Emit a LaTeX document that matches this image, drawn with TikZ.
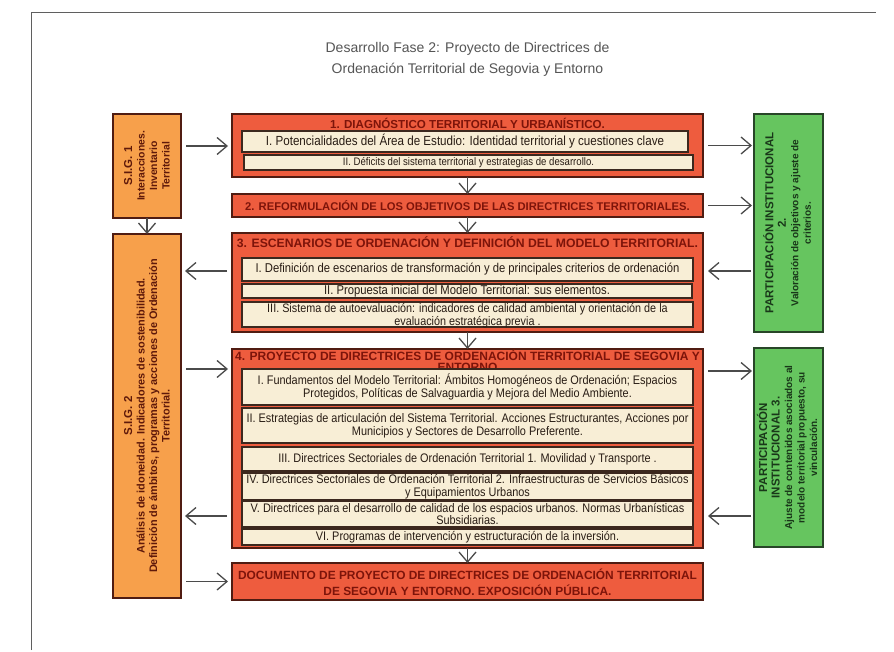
\documentclass[tikz,border=0pt]{standalone}
\usepackage{fontspec}
\setmainfont{Liberation Sans}
\newfontfamily\nf[FakeStretch=0.88]{Liberation Sans}
\usetikzlibrary{arrows.meta}
\definecolor{redfill}{RGB}{238,92,62}
\definecolor{redline}{RGB}{80,28,18}
\definecolor{cream}{RGB}{248,238,214}
\definecolor{subline}{RGB}{60,40,30}
\definecolor{subtext}{RGB}{40,28,20}
\definecolor{titlered}{RGB}{125,20,10}
\definecolor{orangefill}{RGB}{247,160,75}
\definecolor{greenfill}{RGB}{102,197,95}
\definecolor{greenline}{RGB}{40,70,40}
\definecolor{greentext}{RGB}{25,55,25}
\definecolor{sigtext}{RGB}{95,25,10}
\definecolor{arrgray}{RGB}{75,75,75}
\definecolor{headgray}{RGB}{85,85,85}
\definecolor{framegray}{RGB}{95,95,95}
\tikzset{
  box/.style={inner sep=0pt, outer sep=0pt},
  redbox/.style={box, draw=redline, line width=1.6pt, fill=redfill, minimum width=471pt},
  subbox/.style={box, draw=subline, line width=1.3pt, fill=cream, text=subtext, align=center, minimum width=451pt},
  rtitle/.style={box, text=titlered, align=center},
  sigbox/.style={box, draw=redline, line width=1.3pt, fill=orangefill, minimum width=68pt},
  grbox/.style={box, draw=greenline, line width=1.3pt, fill=greenfill, minimum width=69pt},
  sigtxt/.style={box, rotate=90, align=center, text=sigtext, font=\bfseries\fontsize{10.4}{12.5}\selectfont},
  grtxt/.style={box, rotate=90, align=center, text=greentext, font=\bfseries\fontsize{10}{12.5}\selectfont},
  arr/.style={draw=arrgray, line width=1.3pt, -{Straight Barb[length=10pt,width=17pt]}},
  fa/.style={font=\nf\fontsize{13.2}{13.5}\selectfont},
  fb/.style={font=\nf\fontsize{10.9}{12}\selectfont},
  fc/.style={font=\nf\fontsize{12.8}{11.8}\selectfont},
  fd/.style={font=\nf\fontsize{12.4}{12.8}\selectfont},
}
\begin{document}
\begin{tikzpicture}[x=1pt,y=-1pt]
\fill[white] (0,0) rectangle (894,652);
\useasboundingbox (0,0) rectangle (894,652);
\draw[framegray, line width=1pt] (31,650) -- (31,13) -- (876,13);

\node[box, text=headgray, align=center, font=\fontsize{14}{21}\selectfont] (head) at (467.5,59.5)
  {Desarrollo Fase 2: Proyecto de Directrices de\\Ordenación Territorial de Segovia y Entorno};

% S.I.G. boxes
\node[sigbox, minimum height=104pt] (sig1) at (147,166) {};
\node[sigtxt] (sig1t) at (147,166) {{\fontsize{11.5}{12.5}\selectfont S.I.G. 1}\\Interacciones.\\Inventario\\Territorial};
\node[sigbox, minimum height=364pt] (sig2) at (147,416) {};
\node[sigtxt, font=\bfseries\fontsize{10.9}{12.5}\selectfont] (sig2t) at (147,416) {{\fontsize{11.5}{12.5}\selectfont S.I.G. 2}\\Análisis de idoneidad. Indicadores de sostenibilidad.\\Definición de ámbitos, programas y acciones de Ordenación\\Territorial.};

% green boxes
\node[grbox, minimum height=218pt] (g1) at (788.5,223) {};
\node[grtxt] (g1t) at (787,223) {{\fontsize{11.5}{12.5}\selectfont PARTICIPACIÓN INSTITUCIONAL}\\{\fontsize{11.5}{12.5}\selectfont 2.}\\Valoración de objetivos y ajuste de\\criterios.};
\node[grbox, minimum height=199pt] (g2) at (788.5,447.5) {};
\node[grtxt] (g2t) at (787,447.5) {{\fontsize{11.5}{12.5}\selectfont PARTICIPACIÓN}\\{\fontsize{11.5}{12.5}\selectfont INSTITUCIONAL 3.}\\Ajuste de contenidos asociados al\\modelo territorial propuesto, su\\vinculación.};

% box 1
\node[redbox, minimum height=63pt] (b1) at (467.5,145.5) {};
\node[rtitle, font=\bfseries\fontsize{11.6}{13}\selectfont] (t1) at (467.5,123) {1. DIAGNÓSTICO TERRITORIAL Y URBANÍSTICO.};
\node[subbox, fa, minimum width=446pt, minimum height=21pt] (s1a) at (465,141.5) {I. Potencialidades del Área de Estudio: Identidad territorial y cuestiones clave};
\node[subbox, fb, minimum width=449pt, minimum height=15pt] (s1b) at (468.5,162.5) {II. Déficits del sistema territorial y estrategias de desarrollo.};

% box 2
\node[redbox, minimum height=23pt] (b2) at (467.5,205.5) {};
\node[rtitle, font=\bfseries\fontsize{11.2}{13}\selectfont] (t2) at (467.5,205.5) {2. REFORMULACIÓN DE LOS OBJETIVOS DE LAS DIRECTRICES TERRITORIALES.};

% box 3
\node[redbox, minimum height=99pt] (b3) at (467.5,282.5) {};
\node[rtitle, font=\bfseries\fontsize{12.2}{13}\selectfont] (t3) at (467.5,242.5) {3. ESCENARIOS DE ORDENACIÓN Y DEFINICIÓN DEL MODELO TERRITORIAL.};
\node[subbox, fc, minimum height=23pt] (s3a) at (467.5,269.5) {I. Definición de escenarios de transformación y de principales criterios de ordenación};
\node[subbox, fc, minimum width=450pt, minimum height=14pt] (s3b) at (467,291) {II. Propuesta inicial del Modelo Territorial: sus elementos.};
\node[subbox, minimum height=25pt] (s3c) at (467.5,314.5) {};
\node[box, text=subtext, align=center, font=\nf\fontsize{12.3}{11.3}\selectfont] (s3ct) at (467.5,315.5) {III. Sistema de autoevaluación: indicadores de calidad ambiental y orientación de la\\evaluación estratégica previa .};

% box 4
\node[redbox, minimum height=199pt] (b4) at (467.5,448.5) {};
\node[rtitle, font=\bfseries\fontsize{12}{10.5}\selectfont] (t4) at (467.5,360.5) {4. PROYECTO DE DIRECTRICES DE ORDENACIÓN TERRITORIAL DE SEGOVIA Y\\ENTORNO};
\node[subbox, fd, minimum height=36pt] (s4a) at (467.5,387) {I. Fundamentos del Modelo Territorial: Ámbitos Homogéneos de Ordenación; Espacios\\Protegidos, Políticas de Salvaguardia y Mejora del Medio Ambiente.};
\node[subbox, fd, minimum height=35pt] (s4b) at (467.5,425.5) {II. Estrategias de articulación del Sistema Territorial. Acciones Estructurantes, Acciones por\\Municipios y Sectores de Desarrollo Preferente.};
\node[subbox, fd, minimum height=24pt] (s4c) at (467.5,459) {III. Directrices Sectoriales de Ordenación Territorial 1. Movilidad y Transporte .};
\node[subbox, fd, minimum height=27pt] (s4d) at (467.5,486.5) {IV. Directrices Sectoriales de Ordenación Territorial 2. Infraestructuras de Servicios Básicos\\y Equipamientos Urbanos};
\node[subbox, fd, minimum height=26pt] (s4e) at (467.5,514) {V. Directrices para el desarrollo de calidad de los espacios urbanos. Normas Urbanísticas\\Subsidiarias.};
\node[subbox, fd, minimum height=16pt] (s4f) at (467.5,537) {VI. Programas de intervención y estructuración de la inversión.};

% box 5
\node[redbox, minimum height=37pt] (b5) at (467.5,581.5) {};
\node[rtitle, font=\bfseries\fontsize{11.9}{16}\selectfont] (t5) at (467.5,582) {DOCUMENTO DE PROYECTO DE DIRECTRICES DE ORDENACIÓN TERRITORIAL\\DE SEGOVIA Y ENTORNO. EXPOSICIÓN PÚBLICA.};

% vertical arrows
\draw[arr] (b1.south) -- (b2.north);
\draw[arr] (b2.south) -- (b3.north);
\draw[arr] (b3.south) -- (b4.north);
\draw[arr] (b4.south) -- (b5.north);
\draw[arr] (sig1.south) -- (sig2.north);

% horizontal arrows
\coordinate (y1) at ([yshift=20pt]sig1.east);
\draw[arr] ([xshift=5pt]y1) -- ([xshift=-4pt]y1 -| b1.west);
\draw[arr] ([xshift=5pt]b1.east) -- ([xshift=-2pt]b1.east -| g1.west);
\draw[arr] ([xshift=5pt]b2.east) -- ([xshift=-2pt]b2.east -| g1.west);
\coordinate (y3) at ([yshift=-1.5pt]s3a.east);
\draw[arr] ([xshift=-3pt]y3 -| g1.west) -- ([xshift=5pt]y3 -| b3.east);
\draw[arr] ([xshift=-5pt]y3 -| b3.west) -- ([xshift=4pt]y3 -| sig2.east);
\coordinate (y4) at ([yshift=-20pt]b4.north west);
\draw[arr] ([xshift=5pt]y4 -| sig2.east) -- ([xshift=-4pt]y4);
\draw[arr] ([xshift=5pt,yshift=-2pt]y4 -| b4.east) -- ([xshift=-2pt,yshift=-2pt]y4 -| g2.west);
\coordinate (y5) at ([yshift=-2pt]s4e.east);
\draw[arr] ([xshift=-3pt]y5 -| g2.west) -- ([xshift=5pt]y5 -| b4.east);
\draw[arr] ([xshift=-5pt]y5 -| b4.west) -- ([xshift=4pt]y5 -| sig2.east);
\draw[arr] ([xshift=5pt]b5.west -| sig2.east) -- ([xshift=-4pt]b5.west);
\end{tikzpicture}
\end{document}
